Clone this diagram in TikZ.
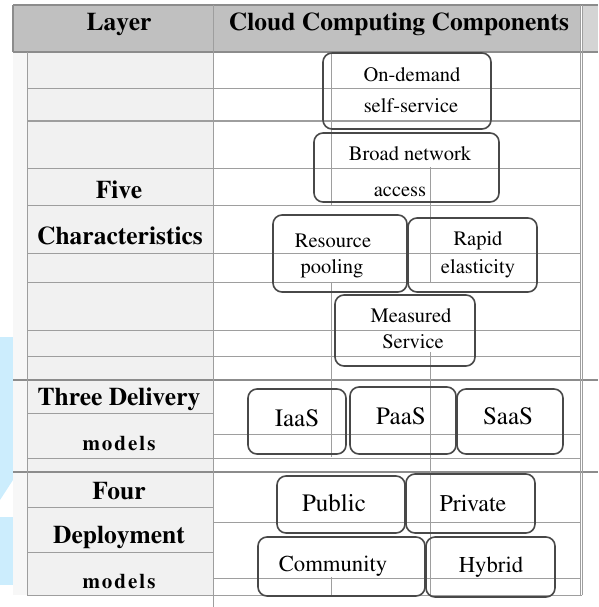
\documentclass[tikz,border=0pt]{standalone}
\usepackage[T1]{fontenc}
\usepackage{times}
\definecolor{headgray}{RGB}{192,192,192}
\definecolor{headlight}{RGB}{212,212,212}
\definecolor{colgray}{RGB}{241,241,241}
\definecolor{gridgray}{RGB}{158,158,158}
\definecolor{boxgray}{RGB}{72,72,72}
\definecolor{skyblue}{RGB}{204,237,253}
\begin{document}
\begin{tikzpicture}[x=1pt,y=-1pt,
  grid/.style={draw=gridgray, line width=1pt},
  divider/.style={draw=black!45, line width=1.1pt},
  cbox/.style={draw=boxgray, line width=1.6pt, rounded corners=9pt, inner sep=0pt},
  lbl/.style={font=\fontsize{25.5}{28}\selectfont\bfseries, inner sep=0pt,
              text height=17pt, text depth=5pt},
  mlbl/.style={font=\fontsize{21}{24}\selectfont\bfseries,
              inner sep=0pt, text height=15pt, text depth=4pt},
  ctext/.style={font=\fontsize{20.5}{23}\selectfont, inner sep=0pt,
              text height=14pt, text depth=4pt},
  btext/.style={font=\fontsize{25}{28}\selectfont, inner sep=0pt,
              text height=17pt, text depth=5pt},
  dtext/.style={font=\fontsize{22.7}{26}\selectfont, inner sep=0pt,
              text height=16pt, text depth=5pt}]
\useasboundingbox (0,0) rectangle (598,607);

% background fills
\fill[skyblue] (0,337) -- (24,337) -- (24,463) -- (0,500) -- cycle;
\fill[skyblue] (0,517) rectangle (24,585);
\fill[black!3] (13,52) rectangle (27,595);
\fill[colgray] (27,52) rectangle (213,595);
\fill[headgray] (13,5) rectangle (580,52);
\fill[headlight] (582,5) rectangle (598,52);
\draw[divider] (13,5) -- (598,5);
\draw[divider] (13,5) -- (13,52);
\draw[divider] (13,52) -- (598,52);

% row lines of the layer column
\foreach \y in {89,121,168,205,253,282,330,356,413,458,507,552}
  \draw[grid] (27,\y) -- (213,\y);
% row lines of the component column
\foreach \y in {89,121,168,205,253,282,330,356,434,458,522,578}
  \draw[grid] (213,\y) -- (580,\y);
% section dividers and bottom edge
\draw[divider] (13,380) -- (598,380);
\draw[divider] (13,472) -- (598,472);
\draw[grid] (27,595) -- (582,595);

% column lines
\draw[grid] (27,52) -- (27,595);
\draw[grid] (213,5) -- (213,607);
\draw[grid] (580,5) -- (580,595);
\draw[grid] (582,5) -- (582,595);
\draw[grid] (331,52) -- (331,205);
\draw[grid] (331,282) -- (331,457);
\draw[grid] (331,577) -- (331,595);
\draw[grid] (430,167) -- (430,283);
\draw[grid] (430,352) -- (430,595);

% header texts
\node[lbl] (hlayer) at (119,25) {Layer};
\node[lbl] (hcomp) at (399,25) {Cloud Computing Components};

% layer names
\node[lbl] (five) at (119,192) {Five};
\node[lbl] (charac) at (120,238) {Characteristics};
\node[lbl] (three) at (119,399) {Three Delivery};
\node[mlbl] (models1) at (119,445) {m\kern2pt o\kern2pt d\kern2pt e\kern2pt l\kern2pt s};
\node[lbl] (four) at (119,493) {Four};
\node[lbl] (deploy) at (119,537) {Deployment};
\node[mlbl] (models2) at (119,583) {m\kern2pt o\kern2pt d\kern2pt e\kern2pt l\kern2pt s};

% five characteristics
\node[cbox, minimum width=168pt, minimum height=76pt] (ondemand) at (407,91) {};
\node[cbox, minimum width=185pt, minimum height=69pt] (broad) at (406.5,167.5) {};
\node[cbox, minimum width=134pt, minimum height=77pt] (resource) at (340,253.5) {};
\node[cbox, minimum width=129pt, minimum height=74pt] (rapid) at (472.5,255) {};
\node[cbox, minimum width=140pt, minimum height=71pt] (measured) at (405,330.5) {};
\node[ctext] (t1a) at (412,77) {On-demand};
\node[ctext] (t1b) at (411,108) {self-service};
\node[ctext] (t2a) at (410,155) {Broad network};
\node[ctext] (t2b) at (400,191) {access};
\node[ctext] (t3a) at (333,242) {Resource};
\node[ctext] (t3b) at (332,268) {pooling};
\node[ctext] (t4a) at (478,240) {Rapid};
\node[ctext] (t4b) at (478,268) {elasticity};
\node[ctext] (t5a) at (411,317) {Measured};
\node[ctext] (t5b) at (413,343) {Service};

% three delivery models
\node[cbox, minimum width=98pt, minimum height=65pt] (iaas) at (297,421.5) {};
\node[cbox, minimum width=106pt, minimum height=67pt] (paas) at (403,420.5) {};
\node[cbox, minimum width=106pt, minimum height=65pt] (saas) at (510,421.5) {};
\node[btext] (tiaas) at (297,420) {IaaS};
\node[btext] (tpaas) at (401,418) {PaaS};
\node[btext] (tsaas) at (508,418) {SaaS};

% four deployment models
\node[cbox, minimum width=128pt, minimum height=57pt] (public) at (341,504.5) {};
\node[cbox, minimum width=129pt, minimum height=59pt] (private) at (470.5,503.5) {};
\node[cbox, minimum width=167pt, minimum height=59pt] (community) at (341.5,566.5) {};
\node[cbox, minimum width=129pt, minimum height=60pt] (hybrid) at (490.5,567) {};
\node[btext] (tpublic) at (334,505) {Public};
\node[btext, font=\fontsize{24}{27}\selectfont] (tprivate) at (473,505) {Private};
\node[dtext] (tcomm) at (333,566) {Community};
\node[dtext] (thybrid) at (491,567) {Hybrid};
\end{tikzpicture}
\end{document}
